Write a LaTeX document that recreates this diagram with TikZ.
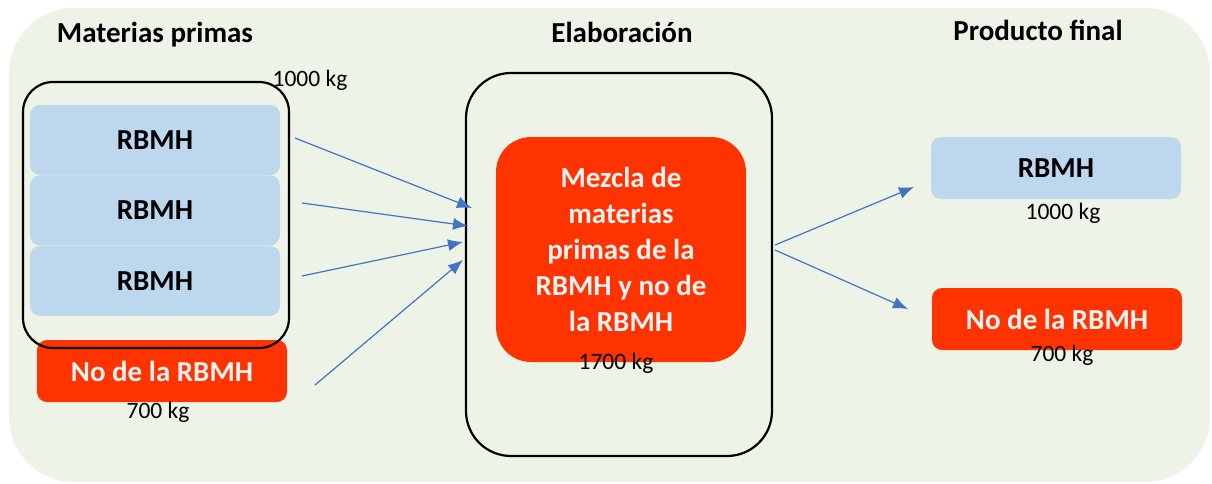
\documentclass[tikz,border=0pt]{standalone}
\usepackage{fontspec}
\setmainfont{Carlito}
\usetikzlibrary{arrows.meta,positioning,backgrounds}
\definecolor{fondo}{RGB}{237,244,231}
\definecolor{azulclaro}{RGB}{189,215,238}
\definecolor{rojo}{RGB}{255,51,0}
\definecolor{flecha}{RGB}{68,114,196}
\definecolor{blanco}{RGB}{242,242,242}
\tikzstyle{titulo}=[font=\fontsize{29}{34}\selectfont\bfseries]
\tikzstyle{masa}=[font=\fontsize{23.5}{28}\selectfont,inner sep=0]
\tikzstyle{caja}=[rectangle,rounded corners=10,minimum width=250,font=\fontsize{29}{34}\selectfont\bfseries]
\tikzstyle{rbmh}=[caja,fill=azulclaro,minimum height=70]
\tikzstyle{norbmh}=[caja,fill=rojo,text=blanco,minimum height=62]
\tikzstyle{contenedor}=[rectangle,draw=black,line width=2.2]
\tikzstyle{mezcla}=[rectangle,rounded corners=35,fill=rojo,text=blanco,minimum width=250,minimum height=225,align=center,font=\fontsize{29}{36}\selectfont\bfseries]

\begin{document}
\begin{tikzpicture}[x=1pt,y=-1pt]
		\useasboundingbox (0,0) rectangle (1212,483);
		\fill[fondo,rounded corners=65] (9,8) rectangle (1210,482);

		\node[titulo]	(tmp)	at (155,35)	{Materias primas};
		\node[titulo]	(tel)	at (622,32)	{Elaboración};
		\node[titulo]	(tpf)	at (1038,30)	{Producto final};

		\node[rbmh]	(b1)	at (155,140)	{RBMH};
		\node[rbmh]	(b2)	[below=0 of b1]	{RBMH};
		\node[rbmh]	(b3)	[below=0 of b2]	{RBMH};
		\node[norbmh]	(n1)	at (162,371)	{No de la RBMH};
		\node[contenedor,rounded corners=30,minimum width=266,minimum height=266]
				(cmp)	at (156,215)	{};
		\node[masa]	(m0)	at (310,80)	{1000 kg};
		\node[masa]	(m1)	at (158,412)	{700 kg};

		\node[contenedor,rounded corners=45,minimum width=306,minimum height=383]
				(cel)	at (619,264.5)	{};
		\node[mezcla]	(mez)	at (621,249.5)	{Mezcla de\\materias\\primas de la\\RBMH y no de\\la RBMH};
		\node[masa]	(m2)	at (616,363)	{1700 kg};

		\node[rbmh,minimum height=62]	(b4)	at (1056,168)	{RBMH};
		\node[masa]	(m3)	at (1063,213)	{1000 kg};
		\node[norbmh]	(n2)	at (1057,319)	{No de la RBMH};
		\node[masa]	(m4)	at (1062,355)	{700 kg};

		\coordinate (s1) at (295,138);
		\coordinate (s2) at (302,203);
		\coordinate (s3) at (302,276);
		\coordinate (s4) at (315,385);
		\coordinate (e1) at (472,208);
		\coordinate (e2) at (468,226);
		\coordinate (e3) at (463,242);
		\coordinate (e4) at (463,260);
		\coordinate (s5) at (775,245);
		\coordinate (s6) at (775,250);
		\coordinate (e5) at (914,187);
		\coordinate (e6) at (908,309);

		\begin{scope}[>={Latex[length=15pt,width=12pt]},draw=flecha,line width=1.2]
			\draw[->]	(s1) -- (e1);
			\draw[->]	(s2) -- (e2);
			\draw[->]	(s3) -- (e3);
			\draw[->]	(s4) -- (e4);
			\draw[->]	(s5) -- (e5);
			\draw[->]	(s6) -- (e6);
		\end{scope}
\end{tikzpicture}
\end{document}
